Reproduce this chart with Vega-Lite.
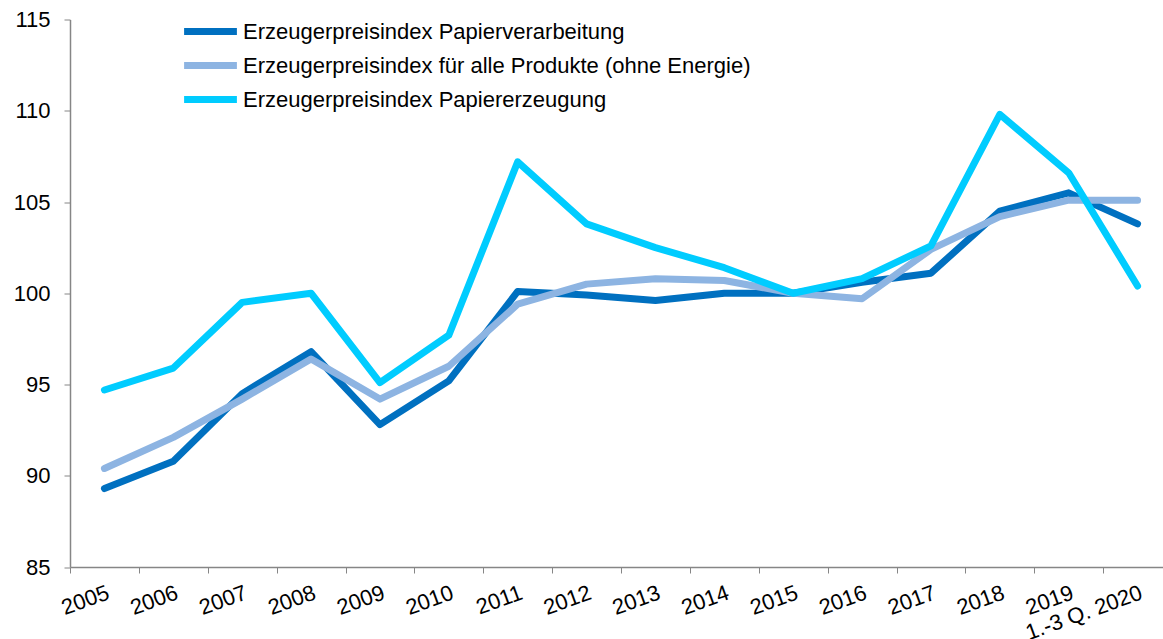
{
  "$schema": "https://vega.github.io/schema/vega-lite/v6.json",
  "width": 1093,
  "height": 547.5,
  "autosize": "none",
  "padding": {"left": 70, "top": 19.5, "right": 0, "bottom": 71.5},
  "background": "white",
  "config": {
    "view": {"stroke": null},
    "font": "Liberation Sans"
  },
  "data": {
    "values": [
      {"year": "2005", "series": "Erzeugerpreisindex Papierverarbeitung", "value": 89.3},
      {"year": "2006", "series": "Erzeugerpreisindex Papierverarbeitung", "value": 90.8},
      {"year": "2007", "series": "Erzeugerpreisindex Papierverarbeitung", "value": 94.5},
      {"year": "2008", "series": "Erzeugerpreisindex Papierverarbeitung", "value": 96.8},
      {"year": "2009", "series": "Erzeugerpreisindex Papierverarbeitung", "value": 92.8},
      {"year": "2010", "series": "Erzeugerpreisindex Papierverarbeitung", "value": 95.2},
      {"year": "2011", "series": "Erzeugerpreisindex Papierverarbeitung", "value": 100.1},
      {"year": "2012", "series": "Erzeugerpreisindex Papierverarbeitung", "value": 99.9},
      {"year": "2013", "series": "Erzeugerpreisindex Papierverarbeitung", "value": 99.6},
      {"year": "2014", "series": "Erzeugerpreisindex Papierverarbeitung", "value": 100.0},
      {"year": "2015", "series": "Erzeugerpreisindex Papierverarbeitung", "value": 100.0},
      {"year": "2016", "series": "Erzeugerpreisindex Papierverarbeitung", "value": 100.6},
      {"year": "2017", "series": "Erzeugerpreisindex Papierverarbeitung", "value": 101.1},
      {"year": "2018", "series": "Erzeugerpreisindex Papierverarbeitung", "value": 104.5},
      {"year": "2019", "series": "Erzeugerpreisindex Papierverarbeitung", "value": 105.5},
      {"year": "1.-3 Q. 2020", "series": "Erzeugerpreisindex Papierverarbeitung", "value": 103.8},
      {"year": "2005", "series": "Erzeugerpreisindex für alle Produkte (ohne Energie)", "value": 90.4},
      {"year": "2006", "series": "Erzeugerpreisindex für alle Produkte (ohne Energie)", "value": 92.1},
      {"year": "2007", "series": "Erzeugerpreisindex für alle Produkte (ohne Energie)", "value": 94.2},
      {"year": "2008", "series": "Erzeugerpreisindex für alle Produkte (ohne Energie)", "value": 96.4},
      {"year": "2009", "series": "Erzeugerpreisindex für alle Produkte (ohne Energie)", "value": 94.2},
      {"year": "2010", "series": "Erzeugerpreisindex für alle Produkte (ohne Energie)", "value": 96.0},
      {"year": "2011", "series": "Erzeugerpreisindex für alle Produkte (ohne Energie)", "value": 99.4},
      {"year": "2012", "series": "Erzeugerpreisindex für alle Produkte (ohne Energie)", "value": 100.5},
      {"year": "2013", "series": "Erzeugerpreisindex für alle Produkte (ohne Energie)", "value": 100.8},
      {"year": "2014", "series": "Erzeugerpreisindex für alle Produkte (ohne Energie)", "value": 100.7},
      {"year": "2015", "series": "Erzeugerpreisindex für alle Produkte (ohne Energie)", "value": 100.0},
      {"year": "2016", "series": "Erzeugerpreisindex für alle Produkte (ohne Energie)", "value": 99.7},
      {"year": "2017", "series": "Erzeugerpreisindex für alle Produkte (ohne Energie)", "value": 102.4},
      {"year": "2018", "series": "Erzeugerpreisindex für alle Produkte (ohne Energie)", "value": 104.2},
      {"year": "2019", "series": "Erzeugerpreisindex für alle Produkte (ohne Energie)", "value": 105.1},
      {"year": "1.-3 Q. 2020", "series": "Erzeugerpreisindex für alle Produkte (ohne Energie)", "value": 105.1},
      {"year": "2005", "series": "Erzeugerpreisindex Papiererzeugung", "value": 94.7},
      {"year": "2006", "series": "Erzeugerpreisindex Papiererzeugung", "value": 95.9},
      {"year": "2007", "series": "Erzeugerpreisindex Papiererzeugung", "value": 99.5},
      {"year": "2008", "series": "Erzeugerpreisindex Papiererzeugung", "value": 100.0},
      {"year": "2009", "series": "Erzeugerpreisindex Papiererzeugung", "value": 95.1},
      {"year": "2010", "series": "Erzeugerpreisindex Papiererzeugung", "value": 97.7},
      {"year": "2011", "series": "Erzeugerpreisindex Papiererzeugung", "value": 107.2},
      {"year": "2012", "series": "Erzeugerpreisindex Papiererzeugung", "value": 103.8},
      {"year": "2013", "series": "Erzeugerpreisindex Papiererzeugung", "value": 102.5},
      {"year": "2014", "series": "Erzeugerpreisindex Papiererzeugung", "value": 101.4},
      {"year": "2015", "series": "Erzeugerpreisindex Papiererzeugung", "value": 100.0},
      {"year": "2016", "series": "Erzeugerpreisindex Papiererzeugung", "value": 100.8},
      {"year": "2017", "series": "Erzeugerpreisindex Papiererzeugung", "value": 102.6},
      {"year": "2018", "series": "Erzeugerpreisindex Papiererzeugung", "value": 109.8},
      {"year": "2019", "series": "Erzeugerpreisindex Papiererzeugung", "value": 106.6},
      {"year": "1.-3 Q. 2020", "series": "Erzeugerpreisindex Papiererzeugung", "value": 100.4}
    ]
  },
  "mark": {"type": "line", "strokeWidth": 7, "strokeCap": "round", "strokeJoin": "round"},
  "encoding": {
    "x": {
      "field": "year",
      "type": "nominal",
      "sort": null,
      "scale": {"type": "band", "range": [0, 1102], "paddingInner": 0, "paddingOuter": 0},
      "axis": {
        "title": null,
        "tickBand": "extent",
        "tickSize": 6,
        "tickColor": "#868686",
        "domainColor": "#868686",
        "domainWidth": 1.5,
        "labelAngle": -20,
        "labelAlign": "right",
        "labelBaseline": "top",
        "labelFontSize": 22,
        "labelColor": "#000000",
        "labelPadding": 9,
        "labelOverlap": false,
        "grid": false
      }
    },
    "y": {
      "field": "value",
      "type": "quantitative",
      "scale": {"domain": [85, 115], "nice": false, "zero": false},
      "axis": {
        "title": null,
        "values": [85, 90, 95, 100, 105, 110, 115],
        "tickSize": 6,
        "tickColor": "#868686",
        "domainColor": "#868686",
        "domainWidth": 1.5,
        "labelFontSize": 22,
        "labelColor": "#000000",
        "labelPadding": 14,
        "grid": false
      }
    },
    "color": {
      "field": "series",
      "type": "nominal",
      "sort": null,
      "scale": {
        "domain": ["Erzeugerpreisindex Papierverarbeitung", "Erzeugerpreisindex für alle Produkte (ohne Energie)", "Erzeugerpreisindex Papiererzeugung"],
        "range": ["#0070C0", "#8DB4E2", "#00CCFF"]
      },
      "legend": {
        "title": null,
        "orient": "none",
        "legendX": 120.5,
        "legendY": -8,
        "padding": 0,
        "symbolType": "M-1.6,0H1.6",
        "symbolSize": 1089,
        "symbolStrokeWidth": 7,
        "labelFontSize": 22,
        "labelColor": "#000000",
        "labelOffset": 12.5,
        "labelLimit": 800,
        "rowPadding": 0
      }
    }
  }
}
